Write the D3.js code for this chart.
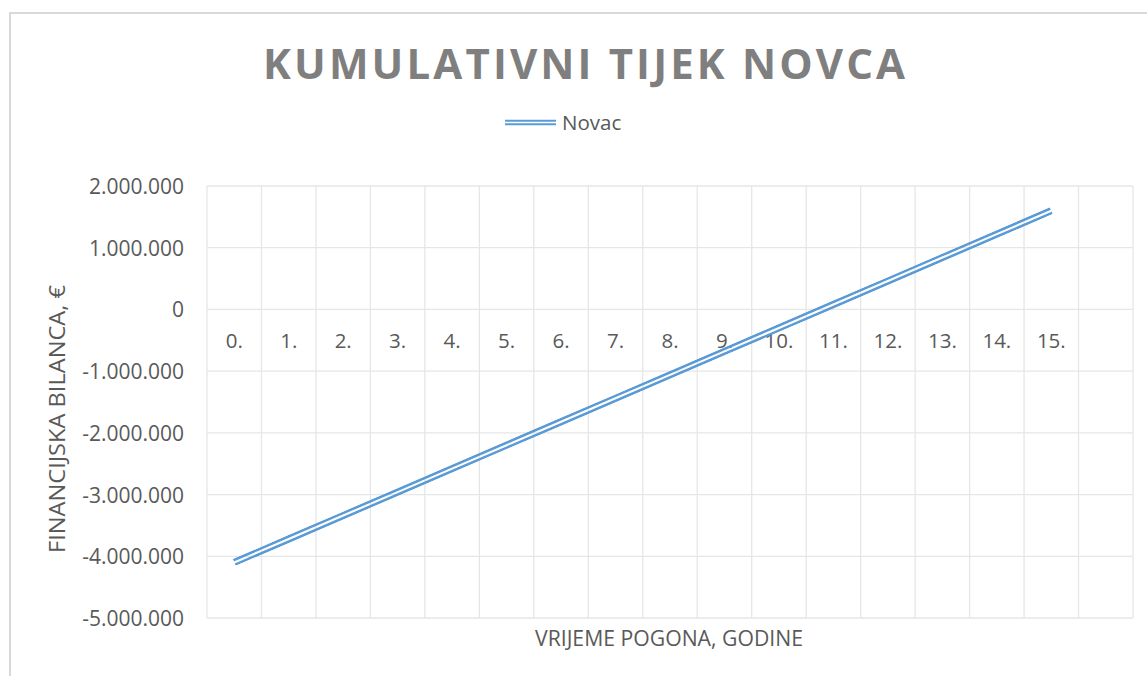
<!DOCTYPE html>
<html>
<head>
<meta charset="utf-8">
<script src="https://cdn.jsdelivr.net/npm/d3@7"></script>
<style>
  html, body { margin: 0; padding: 0; background: #fff; }
  svg { display: block; font-family: "Open Sans", "DejaVu Sans", sans-serif; }
</style>
</head>
<body>
<script>
// Cumulative cash flow per year of operation (EUR)
const categories = ["0.", "1.", "2.", "3.", "4.", "5.", "6.", "7.", "8.", "9.", "10.", "11.", "12.", "13.", "14.", "15.", ""];
const novac = [-4100000, -3720000, -3340000, -2960000, -2580000, -2200000, -1820000, -1440000,
               -1060000, -680000, -300000, 80000, 460000, 840000, 1220000, 1600000];
const yTicks = [-5000000, -4000000, -3000000, -2000000, -1000000, 0, 1000000, 2000000];

const titleText = "KUMULATIVNI TIJEK NOVCA";
const seriesName = "Novac";
const xTitle = "VRIJEME POGONA, GODINE";
const yTitle = "FINANCIJSKA BILANCA, €";

const W = 1147, H = 676;
const plot = { left: 207, right: 1133, top: 186, bottom: 618 };
const blue = "#5b9bd5", grid = "#e6e6e6", textCol = "#595959";

const hr = d3.formatLocale({ decimal: ",", thousands: ".", grouping: [3], currency: ["", " €"], minus: "-" });
const fmt = hr.format(",.0f");

const svg = d3.select("body").append("svg").attr("width", W).attr("height", H);
const defs = svg.append("defs");

// chart frame
svg.append("rect").attr("x", 10).attr("y", 13).attr("width", 1170).attr("height", 700)
  .attr("fill", "#fff").attr("stroke", "#d9d9d9").attr("stroke-width", 2);

const x = d3.scaleBand().domain(categories).range([plot.left, plot.right]).padding(0);
const y = d3.scaleLinear().domain([-5000000, 2000000]).range([plot.bottom, plot.top]);

// horizontal gridlines
svg.append("g").selectAll("line").data(yTicks).join("line")
  .attr("x1", plot.left).attr("x2", plot.right)
  .attr("y1", d => y(d)).attr("y2", d => y(d))
  .attr("stroke", grid).attr("stroke-width", 1.3);

// vertical gridlines at category boundaries
const bounds = categories.map(c => x(c)).concat([plot.right]);
svg.append("g").selectAll("line").data(bounds).join("line")
  .attr("x1", d => d).attr("x2", d => d)
  .attr("y1", plot.top).attr("y2", plot.bottom)
  .attr("stroke", grid).attr("stroke-width", 1.3);

// value axis labels
const yAxis = d3.axisLeft(y).tickValues(yTicks).tickFormat(fmt).tickSize(0).tickPadding(0);
const gy = svg.append("g").attr("transform", `translate(${plot.left - 23},0)`).call(yAxis);
gy.select(".domain").remove();
gy.selectAll("text").attr("fill", textCol).style("font-size", "21px")
  .style("font-family", "'Open Sans', sans-serif").attr("dy", "0.357em");

// category labels sitting just below the zero line
const xAxis = d3.axisBottom(x).tickSize(0).tickPadding(0);
const gx = svg.append("g").attr("transform", `translate(0,${y(0)})`).call(xAxis);
gx.select(".domain").remove();
gx.selectAll("text").attr("fill", textCol).style("font-size", "20.5px")
  .style("font-family", "'Open Sans', sans-serif").attr("y", 39).attr("dy", 0);

// compound (double) stroke: a wide stroke with a thin transparent core
function doubleLine(id, d, outer, inner) {
  const m = defs.append("mask").attr("id", id).attr("maskUnits", "userSpaceOnUse")
    .attr("x", 0).attr("y", 0).attr("width", W).attr("height", H);
  m.append("path").attr("d", d).attr("fill", "none").attr("stroke", "#fff").attr("stroke-width", outer);
  m.append("path").attr("d", d).attr("fill", "none").attr("stroke", "#000").attr("stroke-width", inner);
  svg.append("path").attr("d", d).attr("fill", "none").attr("stroke", blue)
    .attr("stroke-width", outer).attr("mask", `url(#${id})`);
}

const line = d3.line()
  .x((d, i) => x(categories[i]) + x.bandwidth() / 2)
  .y(d => y(d));
doubleLine("novacMask", line(novac), 7.4, 2.1);

// title
svg.append("text").attr("x", 263).attr("y", 79)
  .attr("textLength", 642).attr("lengthAdjust", "spacing")
  .attr("fill", "#7f7f7f").style("font-size", "42px").style("font-weight", 700)
  .text(titleText);

// legend
const legendLine = d3.line()([[505, 122.5], [556, 122.5]]);
doubleLine("legendMask", legendLine, 6.2, 1.6);
svg.append("text").attr("x", 562).attr("y", 129.5).attr("fill", textCol)
  .style("font-size", "20.5px").text(seriesName);

// axis titles
svg.append("text").attr("x", 535).attr("y", 646)
  .attr("textLength", 268).attr("lengthAdjust", "spacingAndGlyphs")
  .attr("fill", textCol).style("font-size", "21px").text(xTitle);
svg.append("text").attr("transform", "translate(65,553) rotate(-90)")
  .attr("textLength", 268).attr("lengthAdjust", "spacingAndGlyphs")
  .attr("fill", textCol).style("font-size", "21px").text(yTitle);
</script>
</body>
</html>
